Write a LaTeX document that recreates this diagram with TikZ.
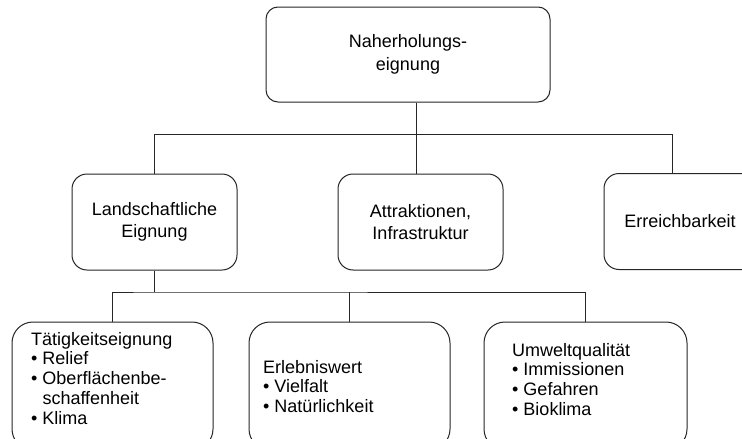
\documentclass[tikz,border=0pt]{standalone}
\usepackage{fontspec}
\setmainfont{Liberation Sans}
\begin{document}
\begin{tikzpicture}[x=1pt,y=-1pt,
  every node/.style={inner sep=0pt,font=\fontsize{18}{22.5}\selectfont},
  box/.style={draw=black!85,line width=1pt,align=center},
  topbox/.style={box,rounded corners=12pt,minimum width=284pt,minimum height=95pt},
  midbox/.style={box,rounded corners=15pt,minimum width=165pt,minimum height=96pt},
  lowbox/.style={box,rounded corners=21pt,minimum height=128pt},
  lowtext/.style={anchor=north west,align=left,font=\fontsize{18}{19.7}\selectfont},
  link/.style={draw=black!85,line width=1pt}]
\useasboundingbox (0,0) rectangle (742,439);
\clip (0,0) rectangle (742,439);
\fill[white] (0,0) rectangle (742,439);
% level 1
\node[topbox] (top) at (408,54.5) {Naherholungs-\\eignung};
% level 2
\node[midbox] (L) at (154.5,222) {Landschaftliche\\Eignung};
\node[midbox] (A) at (420.5,222) {Attraktionen,\\Infrastruktur};
\node[midbox] (E) at (686.5,221.5) {};
\node (Et) at (680,221.5) {Erreichbarkeit};
% level 3
\node[lowbox,minimum width=201pt] (b1) at (112.5,386) {};
\node[lowbox,minimum width=201pt] (b2) at (349.5,386) {};
\node[lowbox,minimum width=203pt] (b3) at (585.5,386) {};
\node[lowtext] (t1) at (31,332) {Tätigkeitseignung\\\textbullet\ Relief\\\textbullet\ Oberflächenbe-\\\hphantom{\textbullet\ }schaffenheit\\\textbullet\ Klima};
\node[lowtext] (t2) at (263,360) {Erlebniswert\\\textbullet\ Vielfalt\\\textbullet\ Natürlichkeit};
\node[lowtext] (t3) at (512,343) {Umweltqualität\\\textbullet\ Immissionen\\\textbullet\ Gefahren\\\textbullet\ Bioklima};
% connectors level 1 -> 2
\coordinate (j1) at (416,134);
\coordinate (h1l) at (154,134);
\coordinate (h1r) at (672,134);
\draw[link] (top.south -| j1) -- (A.north -| j1);
\draw[link] (L.north -| h1l) |- (h1r) -- (E.north -| h1r);
% connectors level 2 -> 3
\coordinate (j2) at (154,292);
\draw[link] (L.south -| j2) -- (j2);
\draw[link] (b1.north) |- (j2) -| (b3.north);
\draw[link] (b2.north) -- (b2.north |- j2);
\end{tikzpicture}
\end{document}
